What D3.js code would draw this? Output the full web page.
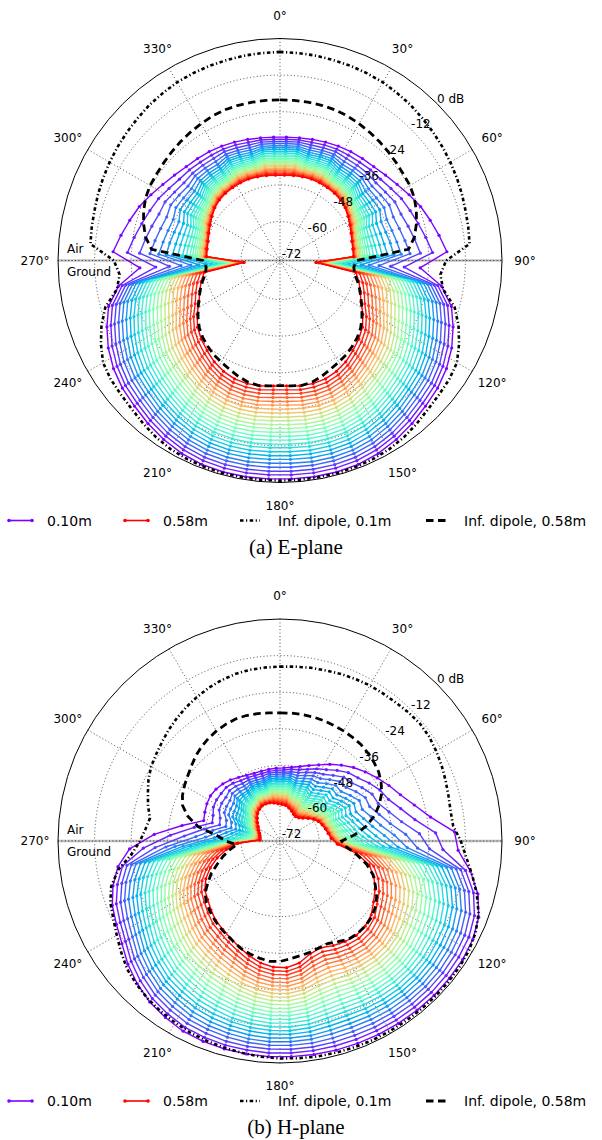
<!DOCTYPE html>
<html>
<head>
<meta charset="utf-8">
<script src="https://cdn.jsdelivr.net/npm/d3@7"></script>
<style type="text/css">
  body {
    margin: 0px;
    background: white;
    font-family: 'DejaVu Sans';
  }
  .tick { font-size: 12px; fill: #000; }
  .legendText { font-size: 14px; fill: #000; }
  .caption { font-family: 'Liberation Serif'; font-size: 21px; fill: #000; }
</style>
</head>
<body>
<script>

// ---------- data ----------
var depths = ["0.10m","0.12m","0.14m","0.16m","0.18m","0.20m","0.22m","0.24m","0.26m","0.28m","0.30m","0.32m","0.34m",
              "0.36m","0.38m","0.40m","0.42m","0.44m","0.46m","0.48m","0.50m","0.52m","0.54m","0.56m","0.58m"];

var angles = [3,9,15,21,27,33,39,45,51,57,63,69,75,81,87,93,99,105,111,117,123,129,135,141,147,153,159,165,171,177,
              183,189,195,201,207,213,219,225,231,237,243,249,255,261,267,273,279,285,291,297,303,309,315,321,327,333,339,345,351,357];

// one row per angle, one value (dB) per depth
var ePlane = [
  [-32.3,-33.0,-33.7,-34.4,-35.1,-35.7,-36.3,-36.9,-37.5,-38.1,-38.6,-39.2,-39.7,-40.2,-40.7,-41.1,-41.6,-42.0,-42.5,-42.9,-43.3,-43.7,-44.1,-44.4,-44.8],
  [-32.1,-32.8,-33.5,-34.2,-34.9,-35.5,-36.1,-36.7,-37.3,-37.9,-38.4,-39.0,-39.5,-40.0,-40.5,-40.9,-41.4,-41.8,-42.3,-42.7,-43.1,-43.5,-43.9,-44.2,-44.6],
  [-31.7,-32.7,-33.6,-34.5,-35.3,-36.1,-36.8,-37.5,-38.1,-38.7,-39.3,-39.8,-40.3,-40.8,-41.2,-41.6,-42.0,-42.4,-42.7,-43.1,-43.4,-43.6,-43.9,-44.2,-44.4],
  [-31.2,-32.2,-33.2,-34.1,-34.9,-35.7,-36.4,-37.1,-37.8,-38.4,-39.0,-39.5,-40.0,-40.5,-40.9,-41.4,-41.8,-42.1,-42.5,-42.8,-43.1,-43.4,-43.7,-44.0,-44.2],
  [-30.7,-31.8,-32.7,-33.7,-34.5,-35.3,-36.1,-36.8,-37.5,-38.2,-38.8,-39.3,-39.9,-40.3,-40.8,-41.3,-41.7,-42.1,-42.4,-42.8,-43.1,-43.4,-43.7,-43.9,-44.2],
  [-30.2,-31.6,-32.9,-34.1,-35.2,-36.1,-37.0,-37.8,-38.5,-39.2,-39.8,-40.4,-40.9,-41.3,-41.7,-42.1,-42.5,-42.8,-43.1,-43.3,-43.6,-43.8,-44.0,-44.1,-44.3],
  [-29.8,-31.3,-32.6,-33.8,-34.9,-35.9,-36.8,-37.7,-38.4,-39.1,-39.8,-40.3,-40.8,-41.3,-41.7,-42.1,-42.5,-42.8,-43.1,-43.4,-43.6,-43.9,-44.1,-44.2,-44.4],
  [-29.3,-30.8,-32.3,-33.5,-34.7,-35.8,-36.7,-37.6,-38.4,-39.1,-39.8,-40.4,-40.9,-41.5,-41.9,-42.3,-42.7,-43.0,-43.3,-43.6,-43.9,-44.1,-44.3,-44.5,-44.7],
  [-28.3,-30.4,-32.3,-34.0,-35.4,-36.7,-37.9,-38.8,-39.7,-40.5,-41.2,-41.8,-42.3,-42.8,-43.2,-43.5,-43.8,-44.1,-44.4,-44.6,-44.7,-44.9,-45.1,-45.2,-45.3],
  [-27.0,-29.4,-31.6,-33.4,-35.1,-36.5,-37.8,-38.9,-39.9,-40.8,-41.5,-42.2,-42.8,-43.3,-43.8,-44.2,-44.5,-44.8,-45.1,-45.4,-45.6,-45.8,-45.9,-46.1,-46.2],
  [-25.3,-28.1,-30.5,-32.6,-34.5,-36.1,-37.6,-38.8,-40.0,-40.9,-41.8,-42.6,-43.2,-43.8,-44.4,-44.8,-45.2,-45.6,-45.9,-46.1,-46.4,-46.6,-46.8,-47.0,-47.1],
  [-23.4,-27.1,-30.3,-33.0,-35.3,-37.3,-38.9,-40.3,-41.5,-42.5,-43.4,-44.1,-44.8,-45.3,-45.7,-46.1,-46.5,-46.7,-47.0,-47.2,-47.3,-47.5,-47.6,-47.7,-47.8],
  [-21.8,-25.9,-29.3,-32.3,-34.8,-36.9,-38.7,-40.2,-41.6,-42.7,-43.6,-44.4,-45.1,-45.7,-46.1,-46.6,-46.9,-47.2,-47.5,-47.7,-47.9,-48.1,-48.2,-48.3,-48.4],
  [-20.0,-24.4,-28.1,-31.3,-34.0,-36.2,-38.2,-39.8,-41.3,-42.4,-43.5,-44.3,-45.0,-45.7,-46.2,-46.6,-47.0,-47.3,-47.6,-47.9,-48.1,-48.2,-48.4,-48.5,-48.6],
  [-18.0,-22.7,-26.7,-30.1,-33.0,-35.4,-37.5,-39.3,-40.8,-42.1,-43.2,-44.1,-44.9,-45.5,-46.1,-46.6,-47.0,-47.4,-47.7,-47.9,-48.1,-48.3,-48.5,-48.6,-48.7],
  [-26.8,-32.0,-36.5,-40.3,-43.5,-46.2,-48.6,-50.5,-52.2,-53.6,-54.8,-55.9,-56.7,-57.5,-58.1,-58.6,-59.1,-59.5,-59.8,-60.1,-60.4,-60.6,-60.7,-60.9,-61.0],
  [-19.2,-20.4,-21.6,-22.8,-23.9,-25.1,-26.3,-27.5,-28.7,-29.9,-31.0,-32.2,-33.4,-34.6,-35.8,-37.0,-38.1,-39.3,-40.5,-41.7,-42.9,-44.0,-45.2,-46.4,-47.6],
  [-14.6,-15.9,-17.2,-18.5,-19.8,-21.1,-22.5,-23.8,-25.1,-26.4,-27.7,-29.0,-30.3,-31.6,-32.9,-34.2,-35.5,-36.8,-38.2,-39.5,-40.8,-42.1,-43.4,-44.7,-46.0],
  [-12.0,-13.4,-14.7,-16.1,-17.4,-18.8,-20.2,-21.5,-22.9,-24.2,-25.6,-26.9,-28.3,-29.7,-31.0,-32.4,-33.7,-35.1,-36.5,-37.8,-39.2,-40.5,-41.9,-43.2,-44.6],
  [-9.6,-11.0,-12.4,-13.8,-15.2,-16.6,-18.0,-19.3,-20.7,-22.1,-23.5,-24.9,-26.3,-27.7,-29.1,-30.5,-31.9,-33.3,-34.6,-36.0,-37.4,-38.8,-40.2,-41.6,-43.0],
  [-7.7,-9.1,-10.4,-11.8,-13.2,-14.5,-15.9,-17.2,-18.6,-20.0,-21.3,-22.7,-24.1,-25.4,-26.8,-28.1,-29.5,-30.9,-32.2,-33.6,-35.0,-36.3,-37.7,-39.0,-40.4],
  [-6.3,-7.6,-8.9,-10.3,-11.6,-12.9,-14.2,-15.5,-16.9,-18.2,-19.5,-20.8,-22.2,-23.5,-24.8,-26.1,-27.4,-28.8,-30.1,-31.4,-32.7,-34.0,-35.4,-36.7,-38.0],
  [-5.3,-6.6,-7.9,-9.2,-10.5,-11.8,-13.1,-14.3,-15.6,-16.9,-18.2,-19.5,-20.8,-22.1,-23.4,-24.7,-26.0,-27.3,-28.6,-29.8,-31.1,-32.4,-33.7,-35.0,-36.3],
  [-4.0,-5.3,-6.6,-7.9,-9.1,-10.4,-11.7,-13.0,-14.3,-15.6,-16.8,-18.1,-19.4,-20.7,-22.0,-23.3,-24.5,-25.8,-27.1,-28.4,-29.7,-31.0,-32.2,-33.5,-34.8],
  [-2.8,-4.1,-5.3,-6.6,-7.9,-9.1,-10.4,-11.7,-12.9,-14.2,-15.5,-16.7,-18.0,-19.3,-20.5,-21.8,-23.1,-24.3,-25.6,-26.9,-28.1,-29.4,-30.7,-31.9,-33.2],
  [-1.8,-3.1,-4.3,-5.6,-6.8,-8.1,-9.4,-10.6,-11.9,-13.1,-14.4,-15.6,-16.9,-18.2,-19.4,-20.7,-21.9,-23.2,-24.5,-25.7,-27.0,-28.2,-29.5,-30.7,-32.0],
  [-1.2,-2.5,-3.7,-5.0,-6.2,-7.5,-8.7,-10.0,-11.2,-12.5,-13.7,-15.0,-16.2,-17.5,-18.7,-20.0,-21.2,-22.5,-23.7,-25.0,-26.2,-27.5,-28.7,-30.0,-31.2],
  [-1.0,-2.3,-3.5,-4.8,-6.0,-7.3,-8.5,-9.8,-11.0,-12.3,-13.5,-14.8,-16.0,-17.3,-18.5,-19.8,-21.0,-22.3,-23.5,-24.8,-26.0,-27.3,-28.5,-29.8,-31.0],
  [-1.0,-2.3,-3.5,-4.8,-6.0,-7.3,-8.6,-9.8,-11.1,-12.3,-13.6,-14.8,-16.1,-17.4,-18.6,-19.9,-21.1,-22.4,-23.7,-24.9,-26.2,-27.4,-28.7,-29.9,-31.2],
  [-1.1,-2.4,-3.6,-4.9,-6.2,-7.5,-8.7,-10.0,-11.3,-12.5,-13.8,-15.1,-16.4,-17.6,-18.9,-20.2,-21.4,-22.7,-24.0,-25.3,-26.5,-27.8,-29.1,-30.3,-31.6],
  [-1.1,-2.4,-3.6,-4.9,-6.2,-7.5,-8.7,-10.0,-11.3,-12.5,-13.8,-15.1,-16.4,-17.6,-18.9,-20.2,-21.4,-22.7,-24.0,-25.3,-26.5,-27.8,-29.1,-30.3,-31.6],
  [-1.0,-2.3,-3.5,-4.8,-6.0,-7.3,-8.6,-9.8,-11.1,-12.3,-13.6,-14.8,-16.1,-17.4,-18.6,-19.9,-21.1,-22.4,-23.7,-24.9,-26.2,-27.4,-28.7,-29.9,-31.2],
  [-1.0,-2.3,-3.5,-4.8,-6.0,-7.3,-8.5,-9.8,-11.0,-12.3,-13.5,-14.8,-16.0,-17.3,-18.5,-19.8,-21.0,-22.3,-23.5,-24.8,-26.0,-27.3,-28.5,-29.8,-31.0],
  [-1.2,-2.5,-3.7,-5.0,-6.2,-7.5,-8.7,-10.0,-11.2,-12.5,-13.7,-15.0,-16.2,-17.5,-18.7,-20.0,-21.2,-22.5,-23.7,-25.0,-26.2,-27.5,-28.7,-30.0,-31.2],
  [-1.8,-3.1,-4.3,-5.6,-6.8,-8.1,-9.4,-10.6,-11.9,-13.1,-14.4,-15.6,-16.9,-18.2,-19.4,-20.7,-21.9,-23.2,-24.5,-25.7,-27.0,-28.2,-29.5,-30.7,-32.0],
  [-2.8,-4.1,-5.3,-6.6,-7.9,-9.1,-10.4,-11.7,-12.9,-14.2,-15.5,-16.7,-18.0,-19.3,-20.5,-21.8,-23.1,-24.3,-25.6,-26.9,-28.1,-29.4,-30.7,-31.9,-33.2],
  [-4.0,-5.3,-6.6,-7.9,-9.1,-10.4,-11.7,-13.0,-14.3,-15.6,-16.8,-18.1,-19.4,-20.7,-22.0,-23.3,-24.5,-25.8,-27.1,-28.4,-29.7,-31.0,-32.2,-33.5,-34.8],
  [-5.3,-6.6,-7.9,-9.2,-10.5,-11.8,-13.1,-14.3,-15.6,-16.9,-18.2,-19.5,-20.8,-22.1,-23.4,-24.7,-26.0,-27.3,-28.6,-29.8,-31.1,-32.4,-33.7,-35.0,-36.3],
  [-6.3,-7.6,-8.9,-10.3,-11.6,-12.9,-14.2,-15.5,-16.9,-18.2,-19.5,-20.8,-22.2,-23.5,-24.8,-26.1,-27.4,-28.8,-30.1,-31.4,-32.7,-34.0,-35.4,-36.7,-38.0],
  [-7.7,-9.1,-10.4,-11.8,-13.2,-14.5,-15.9,-17.2,-18.6,-20.0,-21.3,-22.7,-24.1,-25.4,-26.8,-28.1,-29.5,-30.9,-32.2,-33.6,-35.0,-36.3,-37.7,-39.0,-40.4],
  [-9.6,-11.0,-12.4,-13.8,-15.2,-16.6,-18.0,-19.3,-20.7,-22.1,-23.5,-24.9,-26.3,-27.7,-29.1,-30.5,-31.9,-33.3,-34.6,-36.0,-37.4,-38.8,-40.2,-41.6,-43.0],
  [-12.0,-13.4,-14.7,-16.1,-17.4,-18.8,-20.2,-21.5,-22.9,-24.2,-25.6,-26.9,-28.3,-29.7,-31.0,-32.4,-33.7,-35.1,-36.5,-37.8,-39.2,-40.5,-41.9,-43.2,-44.6],
  [-14.6,-15.9,-17.2,-18.5,-19.8,-21.1,-22.5,-23.8,-25.1,-26.4,-27.7,-29.0,-30.3,-31.6,-32.9,-34.2,-35.5,-36.8,-38.2,-39.5,-40.8,-42.1,-43.4,-44.7,-46.0],
  [-19.2,-20.4,-21.6,-22.8,-23.9,-25.1,-26.3,-27.5,-28.7,-29.9,-31.0,-32.2,-33.4,-34.6,-35.8,-37.0,-38.1,-39.3,-40.5,-41.7,-42.9,-44.0,-45.2,-46.4,-47.6],
  [-26.8,-32.0,-36.5,-40.3,-43.5,-46.2,-48.6,-50.5,-52.2,-53.6,-54.8,-55.9,-56.7,-57.5,-58.1,-58.6,-59.1,-59.5,-59.8,-60.1,-60.4,-60.6,-60.7,-60.9,-61.0],
  [-18.0,-22.7,-26.7,-30.1,-33.0,-35.4,-37.5,-39.3,-40.8,-42.1,-43.2,-44.1,-44.9,-45.5,-46.1,-46.6,-47.0,-47.4,-47.7,-47.9,-48.1,-48.3,-48.5,-48.6,-48.7],
  [-20.0,-24.4,-28.1,-31.3,-34.0,-36.2,-38.2,-39.8,-41.3,-42.4,-43.5,-44.3,-45.0,-45.7,-46.2,-46.6,-47.0,-47.3,-47.6,-47.9,-48.1,-48.2,-48.4,-48.5,-48.6],
  [-21.8,-25.9,-29.3,-32.3,-34.8,-36.9,-38.7,-40.2,-41.6,-42.7,-43.6,-44.4,-45.1,-45.7,-46.1,-46.6,-46.9,-47.2,-47.5,-47.7,-47.9,-48.1,-48.2,-48.3,-48.4],
  [-23.4,-27.1,-30.3,-33.0,-35.3,-37.3,-38.9,-40.3,-41.5,-42.5,-43.4,-44.1,-44.8,-45.3,-45.7,-46.1,-46.5,-46.7,-47.0,-47.2,-47.3,-47.5,-47.6,-47.7,-47.8],
  [-25.3,-28.1,-30.5,-32.6,-34.5,-36.1,-37.6,-38.8,-40.0,-40.9,-41.8,-42.6,-43.2,-43.8,-44.4,-44.8,-45.2,-45.6,-45.9,-46.1,-46.4,-46.6,-46.8,-47.0,-47.1],
  [-27.0,-29.4,-31.6,-33.4,-35.1,-36.5,-37.8,-38.9,-39.9,-40.8,-41.5,-42.2,-42.8,-43.3,-43.8,-44.2,-44.5,-44.8,-45.1,-45.4,-45.6,-45.8,-45.9,-46.1,-46.2],
  [-28.3,-30.4,-32.3,-34.0,-35.4,-36.7,-37.9,-38.8,-39.7,-40.5,-41.2,-41.8,-42.3,-42.8,-43.2,-43.5,-43.8,-44.1,-44.4,-44.6,-44.7,-44.9,-45.1,-45.2,-45.3],
  [-29.3,-30.8,-32.3,-33.5,-34.7,-35.8,-36.7,-37.6,-38.4,-39.1,-39.8,-40.4,-40.9,-41.5,-41.9,-42.3,-42.7,-43.0,-43.3,-43.6,-43.9,-44.1,-44.3,-44.5,-44.7],
  [-29.8,-31.3,-32.6,-33.8,-34.9,-35.9,-36.8,-37.7,-38.4,-39.1,-39.8,-40.3,-40.8,-41.3,-41.7,-42.1,-42.5,-42.8,-43.1,-43.4,-43.6,-43.9,-44.1,-44.2,-44.4],
  [-30.2,-31.6,-32.9,-34.1,-35.2,-36.1,-37.0,-37.8,-38.5,-39.2,-39.8,-40.4,-40.9,-41.3,-41.7,-42.1,-42.5,-42.8,-43.1,-43.3,-43.6,-43.8,-44.0,-44.1,-44.3],
  [-30.7,-31.8,-32.7,-33.7,-34.5,-35.3,-36.1,-36.8,-37.5,-38.2,-38.8,-39.3,-39.9,-40.3,-40.8,-41.3,-41.7,-42.1,-42.4,-42.8,-43.1,-43.4,-43.7,-43.9,-44.2],
  [-31.2,-32.2,-33.2,-34.1,-34.9,-35.7,-36.4,-37.1,-37.8,-38.4,-39.0,-39.5,-40.0,-40.5,-40.9,-41.4,-41.8,-42.1,-42.5,-42.8,-43.1,-43.4,-43.7,-44.0,-44.2],
  [-31.7,-32.7,-33.6,-34.5,-35.3,-36.1,-36.8,-37.5,-38.1,-38.7,-39.3,-39.8,-40.3,-40.8,-41.2,-41.6,-42.0,-42.4,-42.7,-43.1,-43.4,-43.6,-43.9,-44.2,-44.4],
  [-32.1,-32.8,-33.5,-34.2,-34.9,-35.5,-36.1,-36.7,-37.3,-37.9,-38.4,-39.0,-39.5,-40.0,-40.5,-40.9,-41.4,-41.8,-42.3,-42.7,-43.1,-43.5,-43.9,-44.2,-44.6],
  [-32.3,-33.0,-33.7,-34.4,-35.1,-35.7,-36.3,-36.9,-37.5,-38.1,-38.6,-39.2,-39.7,-40.2,-40.7,-41.1,-41.6,-42.0,-42.5,-42.9,-43.3,-43.7,-44.1,-44.4,-44.8]
];

var hPlane = [
  [-48.8,-49.5,-50.2,-50.8,-51.5,-52.1,-52.7,-53.2,-53.8,-54.3,-54.9,-55.4,-55.9,-56.4,-56.8,-57.3,-57.7,-58.2,-58.6,-59.0,-59.4,-59.7,-60.1,-60.5,-60.8],
  [-48.3,-49.0,-49.8,-50.4,-51.1,-51.8,-52.4,-53.0,-53.6,-54.2,-54.7,-55.3,-55.8,-56.3,-56.8,-57.3,-57.8,-58.2,-58.6,-59.1,-59.5,-59.9,-60.3,-60.6,-61.0],
  [-47.5,-48.6,-49.6,-50.6,-51.5,-52.4,-53.2,-53.9,-54.6,-55.3,-55.9,-56.5,-57.1,-57.6,-58.1,-58.5,-59.0,-59.4,-59.7,-60.1,-60.4,-60.8,-61.1,-61.3,-61.6],
  [-46.3,-47.6,-48.7,-49.8,-50.8,-51.8,-52.7,-53.6,-54.4,-55.1,-55.9,-56.5,-57.2,-57.7,-58.3,-58.8,-59.3,-59.8,-60.2,-60.6,-61.0,-61.3,-61.7,-62.0,-62.3],
  [-44.8,-46.2,-47.6,-48.8,-50.0,-51.1,-52.1,-53.1,-54.0,-54.9,-55.7,-56.4,-57.1,-57.8,-58.4,-59.0,-59.6,-60.1,-60.6,-61.1,-61.5,-61.9,-62.3,-62.6,-63.0],
  [-42.8,-44.9,-46.7,-48.4,-50.0,-51.4,-52.7,-53.9,-54.9,-55.9,-56.8,-57.6,-58.3,-59.0,-59.6,-60.1,-60.6,-61.1,-61.5,-61.9,-62.2,-62.5,-62.8,-63.1,-63.3],
  [-40.8,-43.0,-45.1,-46.9,-48.6,-50.1,-51.5,-52.8,-53.9,-55.0,-55.9,-56.8,-57.6,-58.3,-59.0,-59.6,-60.1,-60.6,-61.1,-61.5,-61.8,-62.2,-62.5,-62.8,-63.0],
  [-38.7,-41.1,-43.2,-45.2,-47.0,-48.6,-50.0,-51.4,-52.6,-53.7,-54.7,-55.6,-56.5,-57.2,-57.9,-58.6,-59.1,-59.7,-60.1,-60.6,-61.0,-61.3,-61.6,-61.9,-62.2],
  [-36.8,-39.9,-42.5,-44.9,-47.0,-48.8,-50.4,-51.8,-53.1,-54.2,-55.1,-56.0,-56.7,-57.4,-58.0,-58.5,-58.9,-59.3,-59.6,-59.9,-60.2,-60.4,-60.7,-60.8,-61.0],
  [-34.8,-37.9,-40.7,-43.1,-45.3,-47.1,-48.8,-50.2,-51.5,-52.7,-53.7,-54.5,-55.3,-56.0,-56.6,-57.1,-57.5,-57.9,-58.3,-58.6,-58.9,-59.1,-59.4,-59.5,-59.7],
  [-32.7,-36.0,-38.9,-41.4,-43.6,-45.6,-47.3,-48.8,-50.2,-51.3,-52.4,-53.3,-54.1,-54.8,-55.4,-56.0,-56.4,-56.9,-57.2,-57.6,-57.8,-58.1,-58.3,-58.5,-58.7],
  [-30.5,-34.7,-38.3,-41.3,-43.9,-46.1,-48.0,-49.6,-50.9,-52.1,-53.1,-53.9,-54.6,-55.2,-55.7,-56.1,-56.5,-56.8,-57.1,-57.3,-57.5,-57.6,-57.8,-57.9,-58.0],
  [-27.2,-31.8,-35.8,-39.1,-41.9,-44.4,-46.4,-48.1,-49.6,-50.9,-52.0,-52.9,-53.6,-54.3,-54.8,-55.3,-55.7,-56.1,-56.4,-56.6,-56.8,-57.0,-57.2,-57.3,-57.4],
  [-22.8,-28.0,-32.4,-36.2,-39.4,-42.1,-44.4,-46.4,-48.1,-49.5,-50.7,-51.7,-52.6,-53.3,-53.9,-54.5,-54.9,-55.3,-55.6,-55.9,-56.2,-56.4,-56.5,-56.7,-56.8],
  [-15.5,-21.7,-27.0,-31.5,-35.3,-38.5,-41.3,-43.6,-45.6,-47.3,-48.7,-49.9,-50.9,-51.8,-52.6,-53.2,-53.8,-54.2,-54.6,-55.0,-55.2,-55.5,-55.7,-55.8,-56.0],
  [-14.3,-19.3,-23.7,-27.6,-31.0,-34.0,-36.6,-38.9,-41.0,-42.8,-44.4,-45.7,-47.0,-48.0,-49.0,-49.8,-50.6,-51.2,-51.8,-52.3,-52.7,-53.1,-53.4,-53.7,-54.0],
  [-9.6,-11.2,-12.8,-14.3,-15.9,-17.5,-19.1,-20.7,-22.2,-23.8,-25.4,-27.0,-28.6,-30.1,-31.7,-33.3,-34.9,-36.5,-38.0,-39.6,-41.2,-42.8,-44.3,-45.9,-47.5],
  [-5.6,-7.1,-8.7,-10.2,-11.8,-13.3,-14.8,-16.4,-17.9,-19.4,-21.0,-22.5,-24.1,-25.6,-27.1,-28.7,-30.2,-31.7,-33.3,-34.8,-36.4,-37.9,-39.4,-41.0,-42.5],
  [-3.0,-4.5,-6.1,-7.6,-9.1,-10.7,-12.2,-13.7,-15.3,-16.8,-18.3,-19.9,-21.4,-22.9,-24.5,-26.0,-27.5,-29.1,-30.6,-32.1,-33.7,-35.2,-36.7,-38.3,-39.8],
  [-1.8,-3.3,-4.8,-6.3,-7.8,-9.3,-10.8,-12.3,-13.8,-15.3,-16.8,-18.3,-19.8,-21.3,-22.8,-24.3,-25.8,-27.3,-28.8,-30.3,-31.8,-33.3,-34.8,-36.3,-37.8],
  [-1.4,-2.9,-4.3,-5.8,-7.2,-8.7,-10.1,-11.6,-13.0,-14.5,-15.9,-17.4,-18.8,-20.3,-21.7,-23.2,-24.6,-26.1,-27.5,-29.0,-30.4,-31.9,-33.3,-34.8,-36.2],
  [-1.3,-2.7,-4.1,-5.4,-6.8,-8.2,-9.6,-10.9,-12.3,-13.7,-15.1,-16.4,-17.8,-19.2,-20.6,-21.9,-23.3,-24.7,-26.1,-27.4,-28.8,-30.2,-31.6,-32.9,-34.3],
  [-1.3,-2.6,-4.0,-5.3,-6.6,-8.0,-9.3,-10.6,-12.0,-13.3,-14.6,-16.0,-17.3,-18.6,-20.0,-21.3,-22.6,-24.0,-25.3,-26.6,-28.0,-29.3,-30.6,-32.0,-33.3],
  [-1.4,-2.7,-4.0,-5.4,-6.7,-8.0,-9.3,-10.6,-11.9,-13.3,-14.6,-15.9,-17.2,-18.5,-19.8,-21.2,-22.5,-23.8,-25.1,-26.4,-27.7,-29.1,-30.4,-31.7,-33.0],
  [-1.5,-2.8,-4.2,-5.5,-6.8,-8.2,-9.5,-10.8,-12.2,-13.5,-14.8,-16.2,-17.5,-18.8,-20.2,-21.5,-22.8,-24.2,-25.5,-26.8,-28.2,-29.5,-30.8,-32.2,-33.5],
  [-1.6,-3.0,-4.3,-5.7,-7.1,-8.4,-9.8,-11.1,-12.5,-13.9,-15.2,-16.6,-18.0,-19.3,-20.7,-22.0,-23.4,-24.8,-26.1,-27.5,-28.9,-30.2,-31.6,-32.9,-34.3],
  [-1.7,-3.1,-4.5,-5.9,-7.3,-8.7,-10.1,-11.5,-12.9,-14.3,-15.7,-17.1,-18.5,-19.9,-21.3,-22.7,-24.1,-25.5,-26.9,-28.3,-29.7,-31.1,-32.5,-33.9,-35.3],
  [-1.8,-3.2,-4.5,-5.9,-7.3,-8.6,-10.0,-11.3,-12.7,-14.1,-15.4,-16.8,-18.2,-19.5,-20.9,-22.2,-23.6,-25.0,-26.3,-27.7,-29.1,-30.4,-31.8,-33.1,-34.5],
  [-1.9,-3.2,-4.4,-5.7,-7.0,-8.2,-9.5,-10.8,-12.0,-13.3,-14.6,-15.8,-17.1,-18.4,-19.6,-20.9,-22.2,-23.4,-24.7,-26.0,-27.2,-28.5,-29.8,-31.0,-32.3],
  [-2.0,-3.2,-4.4,-5.7,-6.9,-8.1,-9.3,-10.5,-11.7,-13.0,-14.2,-15.4,-16.6,-17.8,-19.0,-20.3,-21.5,-22.7,-23.9,-25.1,-26.3,-27.6,-28.8,-30.0,-31.2],
  [-2.0,-3.2,-4.5,-5.7,-6.9,-8.1,-9.4,-10.6,-11.8,-13.0,-14.3,-15.5,-16.7,-17.9,-19.2,-20.4,-21.6,-22.8,-24.1,-25.3,-26.5,-27.7,-29.0,-30.2,-31.4],
  [-2.1,-3.4,-4.6,-5.9,-7.1,-8.4,-9.7,-10.9,-12.2,-13.4,-14.7,-15.9,-17.2,-18.5,-19.7,-21.0,-22.2,-23.5,-24.8,-26.0,-27.3,-28.5,-29.8,-31.0,-32.3],
  [-2.2,-3.5,-4.8,-6.2,-7.5,-8.8,-10.1,-11.4,-12.7,-14.1,-15.4,-16.7,-18.0,-19.3,-20.6,-22.0,-23.3,-24.6,-25.9,-27.2,-28.5,-29.9,-31.2,-32.5,-33.8],
  [-2.4,-3.8,-5.2,-6.6,-7.9,-9.3,-10.7,-12.1,-13.5,-14.9,-16.2,-17.6,-19.0,-20.4,-21.8,-23.2,-24.5,-25.9,-27.3,-28.7,-30.1,-31.5,-32.8,-34.2,-35.6],
  [-2.8,-4.2,-5.7,-7.1,-8.5,-9.9,-11.4,-12.8,-14.2,-15.6,-17.1,-18.5,-19.9,-21.3,-22.8,-24.2,-25.6,-27.0,-28.5,-29.9,-31.3,-32.7,-34.2,-35.6,-37.0],
  [-3.8,-5.2,-6.7,-8.1,-9.6,-11.0,-12.4,-13.9,-15.3,-16.7,-18.2,-19.6,-21.1,-22.5,-23.9,-25.4,-26.8,-28.2,-29.7,-31.1,-32.6,-34.0,-35.4,-36.9,-38.3],
  [-4.9,-6.3,-7.8,-9.2,-10.6,-12.1,-13.5,-14.9,-16.4,-17.8,-19.2,-20.7,-22.1,-23.5,-25.0,-26.4,-27.8,-29.3,-30.7,-32.1,-33.6,-35.0,-36.4,-37.9,-39.3],
  [-6.6,-8.0,-9.5,-10.9,-12.3,-13.7,-15.2,-16.6,-18.0,-19.4,-20.9,-22.3,-23.7,-25.1,-26.6,-28.0,-29.4,-30.8,-32.3,-33.7,-35.1,-36.5,-38.0,-39.4,-40.8],
  [-8.6,-10.0,-11.4,-12.8,-14.2,-15.6,-17.0,-18.4,-19.8,-21.2,-22.6,-24.1,-25.5,-26.9,-28.3,-29.7,-31.1,-32.5,-33.9,-35.3,-36.7,-38.1,-39.5,-40.9,-42.3],
  [-11.0,-12.4,-13.7,-15.1,-16.4,-17.8,-19.1,-20.5,-21.8,-23.2,-24.5,-25.9,-27.2,-28.6,-29.9,-31.3,-32.6,-34.0,-35.3,-36.7,-38.0,-39.4,-40.7,-42.1,-43.4],
  [-12.6,-14.0,-15.3,-16.7,-18.1,-19.5,-20.8,-22.2,-23.6,-24.9,-26.3,-27.7,-29.1,-30.4,-31.8,-33.2,-34.5,-35.9,-37.3,-38.7,-40.0,-41.4,-42.8,-44.1,-45.5],
  [-13.9,-15.3,-16.8,-18.2,-19.6,-21.1,-22.5,-23.9,-25.4,-26.8,-28.2,-29.7,-31.1,-32.5,-34.0,-35.4,-36.8,-38.3,-39.7,-41.1,-42.6,-44.0,-45.4,-46.9,-48.3],
  [-16.1,-17.6,-19.1,-20.5,-22.0,-23.5,-25.0,-26.4,-27.9,-29.4,-30.9,-32.3,-33.8,-35.3,-36.8,-38.2,-39.7,-41.2,-42.7,-44.1,-45.6,-47.1,-48.6,-50.0,-51.5],
  [-19.0,-20.5,-22.0,-23.5,-25.0,-26.5,-28.0,-29.5,-31.0,-32.5,-34.0,-35.5,-37.0,-38.5,-40.0,-41.5,-43.0,-44.5,-46.0,-47.5,-49.0,-50.5,-52.0,-53.5,-55.0],
  [-23.4,-27.9,-31.8,-35.3,-38.3,-41.0,-43.4,-45.5,-47.3,-48.9,-50.4,-51.6,-52.7,-53.7,-54.5,-55.3,-55.9,-56.5,-57.0,-57.4,-57.8,-58.2,-58.5,-58.8,-59.0],
  [-31.5,-36.8,-41.4,-45.2,-48.5,-51.3,-53.6,-55.6,-57.4,-58.8,-60.0,-61.1,-62.0,-62.7,-63.3,-63.9,-64.4,-64.8,-65.1,-65.4,-65.6,-65.9,-66.0,-66.2,-66.3],
  [-40.3,-44.3,-47.6,-50.5,-52.9,-55.0,-56.8,-58.3,-59.5,-60.6,-61.5,-62.3,-63.0,-63.5,-64.0,-64.4,-64.8,-65.1,-65.3,-65.5,-65.7,-65.9,-66.0,-66.1,-66.2],
  [-46.9,-49.8,-52.3,-54.4,-56.2,-57.8,-59.1,-60.1,-61.1,-61.9,-62.6,-63.1,-63.6,-64.0,-64.4,-64.7,-65.0,-65.2,-65.4,-65.5,-65.6,-65.8,-65.9,-65.9,-66.0],
  [-46.4,-49.3,-51.8,-54.0,-55.8,-57.3,-58.6,-59.7,-60.7,-61.5,-62.1,-62.7,-63.2,-63.6,-64.0,-64.3,-64.5,-64.8,-64.9,-65.1,-65.2,-65.4,-65.5,-65.5,-65.6],
  [-45.9,-48.3,-50.4,-52.3,-53.9,-55.4,-56.6,-57.7,-58.7,-59.6,-60.4,-61.0,-61.6,-62.1,-62.6,-63.0,-63.3,-63.6,-63.9,-64.2,-64.4,-64.6,-64.7,-64.9,-65.0],
  [-45.6,-48.0,-50.0,-51.9,-53.5,-54.9,-56.1,-57.2,-58.2,-59.0,-59.8,-60.4,-61.0,-61.5,-61.9,-62.3,-62.7,-63.0,-63.3,-63.5,-63.7,-63.9,-64.0,-64.2,-64.3],
  [-45.8,-48.0,-50.0,-51.7,-53.2,-54.5,-55.6,-56.7,-57.6,-58.4,-59.1,-59.7,-60.2,-60.7,-61.1,-61.5,-61.8,-62.1,-62.3,-62.5,-62.7,-62.9,-63.1,-63.2,-63.3],
  [-46.3,-47.9,-49.4,-50.7,-51.9,-53.0,-54.0,-54.9,-55.8,-56.5,-57.2,-57.8,-58.4,-58.9,-59.4,-59.8,-60.2,-60.6,-60.9,-61.2,-61.5,-61.7,-61.9,-62.1,-62.3],
  [-47.0,-48.4,-49.7,-50.9,-52.0,-53.0,-53.8,-54.7,-55.4,-56.1,-56.7,-57.2,-57.7,-58.2,-58.6,-59.0,-59.3,-59.7,-59.9,-60.2,-60.5,-60.7,-60.9,-61.0,-61.2],
  [-47.9,-49.2,-50.3,-51.3,-52.3,-53.2,-53.9,-54.6,-55.3,-55.9,-56.4,-56.9,-57.4,-57.8,-58.1,-58.5,-58.8,-59.1,-59.3,-59.5,-59.7,-59.9,-60.1,-60.3,-60.4],
  [-48.6,-49.5,-50.3,-51.1,-51.8,-52.5,-53.1,-53.7,-54.3,-54.8,-55.4,-55.8,-56.3,-56.7,-57.1,-57.4,-57.8,-58.1,-58.4,-58.7,-59.0,-59.2,-59.5,-59.7,-59.9],
  [-49.0,-49.8,-50.6,-51.4,-52.1,-52.7,-53.3,-53.9,-54.5,-55.0,-55.5,-55.9,-56.3,-56.7,-57.1,-57.5,-57.8,-58.1,-58.4,-58.7,-58.9,-59.2,-59.4,-59.6,-59.8],
  [-49.1,-49.9,-50.7,-51.5,-52.2,-52.8,-53.4,-54.0,-54.6,-55.1,-55.6,-56.0,-56.4,-56.8,-57.2,-57.6,-57.9,-58.2,-58.5,-58.8,-59.0,-59.3,-59.5,-59.7,-59.9],
  [-49.0,-49.7,-50.3,-50.9,-51.5,-52.1,-52.6,-53.1,-53.7,-54.2,-54.7,-55.2,-55.6,-56.1,-56.5,-56.9,-57.3,-57.7,-58.1,-58.5,-58.9,-59.2,-59.6,-59.9,-60.2],
  [-48.9,-49.6,-50.2,-50.9,-51.5,-52.1,-52.7,-53.2,-53.8,-54.3,-54.8,-55.3,-55.8,-56.3,-56.7,-57.2,-57.6,-58.0,-58.4,-58.8,-59.2,-59.6,-59.9,-60.3,-60.6]
];

var dipoleAngles = [0,5,10,15,20,25,30,35,40,45,50,55,60,65,70,75,80,85,90,95,100,105,110,115,120,125,130,135,140,145,150,155,160,165,170,175,
                    180,185,190,195,200,205,210,215,220,225,230,235,240,245,250,255,260,265,270,275,280,285,290,295,300,305,310,315,320,325,330,335,340,345,350,355];

var eDipole01 = [-4.4,-4.5,-4.6,-4.8,-4.9,-5.1,-5.3,-5.8,-6.2,-6.8,-7.3,-7.8,-8.3,-8.8,-9.3,-9.8,-10.1,-10.4,-18.3,-20.0,-18.5,-13.5,-10.5,-8.0,-5.8,-5.0,-4.6,-4.0,-3.0,-2.0,-1.3,-0.9,-0.7,-0.6,-0.6,-0.6,
                 -0.6,-0.6,-0.6,-0.6,-0.7,-0.9,-1.3,-2.0,-3.0,-4.0,-4.6,-5.0,-5.8,-8.0,-10.5,-13.5,-18.5,-20.0,-18.3,-10.4,-10.1,-9.8,-9.3,-8.8,-8.3,-7.8,-7.3,-6.8,-6.2,-5.8,-5.3,-5.1,-4.9,-4.8,-4.6,-4.5];
var eDipole058 = [-20.1,-20.1,-20.1,-20.1,-20.2,-20.5,-21.0,-21.5,-22.0,-22.5,-23.0,-23.4,-23.6,-24.2,-25.2,-26.5,-28.0,-30.5,-47.5,-48.5,-48.0,-46.5,-45.0,-43.5,-41.8,-40.0,-38.3,-37.0,-36.0,-35.0,-34.3,-33.5,-32.5,-31.6,-31.2,-31.5,
                  -31.8,-31.5,-31.2,-31.6,-32.5,-33.5,-34.3,-35.0,-36.0,-37.0,-38.3,-40.0,-41.8,-43.5,-45.0,-46.5,-48.0,-48.5,-47.5,-30.5,-28.0,-26.5,-25.2,-24.2,-23.6,-23.4,-23.0,-22.5,-22.0,-21.5,-21.0,-20.5,-20.2,-20.1,-20.1,-20.1];
var hDipole01 = [-15.6,-15.4,-15.1,-14.9,-14.5,-14.2,-13.9,-13.8,-13.6,-13.2,-12.9,-13.1,-13.7,-14.3,-15.0,-15.6,-16.0,-15.8,-13.5,-11.5,-8.8,-6.0,-3.5,-2.0,-1.2,-0.9,-0.8,-0.8,-0.8,-0.8,-0.8,-0.8,-0.9,-1.0,-1.1,-1.3,
                 -1.5,-1.8,-2.2,-2.6,-3.0,-3.4,-4.0,-4.6,-5.3,-6.3,-7.4,-9.2,-11.0,-12.5,-13.6,-15.5,-19.0,-24.0,-26.9,-28.5,-29.5,-28.0,-26.7,-25.2,-24.0,-23.2,-22.3,-21.2,-20.2,-19.2,-18.3,-17.4,-16.7,-16.1,-15.8,-15.7];
var hDipole058 = [-30.8,-30.7,-30.7,-30.7,-30.8,-31.0,-31.1,-31.3,-31.5,-32.0,-32.6,-33.3,-34.5,-36.0,-38.2,-40.7,-44.0,-48.0,-52.6,-51.0,-47.3,-43.4,-40.3,-38.3,-36.2,-34.7,-33.7,-33.3,-33.2,-33.5,-34.7,-35.7,-35.5,-35.0,-34.6,-34.0,
                  -33.3,-33.2,-33.8,-34.5,-35.3,-36.5,-37.5,-38.3,-39.3,-40.3,-41.3,-42.8,-45.5,-48.0,-51.0,-53.5,-56.0,-58.5,-55.0,-52.0,-45.5,-41.5,-38.8,-37.5,-36.6,-35.8,-34.8,-33.6,-32.6,-31.8,-31.1,-30.6,-30.2,-30.2,-30.4,-30.6];

var rTicks = [-72, -60, -48, -36, -24, -12, 0];
var rTickLabels = ["-72", "-60", "-48", "-36", "-24", "-12", "0 dB"];
var thetaTicks = [0, 30, 60, 90, 120, 150, 180, 210, 240, 270, 300, 330];
var legendLabels = ["0.10m", "0.58m", "Inf. dipole, 0.1m", "Inf. dipole, 0.58m"];
var captions = ["(a) E-plane", "(b) H-plane"];
var sideLabels = ["Air", "Ground"];

// ---------- layout ----------
var W = 602, H = 1140, cx = 280, R = 222;
var centers = [260.5, 841];

var svg = d3.select("body").append("svg")
    .attr("width", W)
    .attr("height", H);

var r = d3.scaleLinear().domain([-72.8, 0]).range([0, R]);
var toRad = d3.scaleLinear().domain([0, 360]).range([0, 2 * Math.PI]);

// matplotlib "rainbow"
function rainbow(t) {
  var cr = Math.min(1, Math.abs(2 * t - 0.5)),
      cg = Math.max(0, Math.sin(Math.PI * t)),
      cb = Math.max(0, Math.cos(Math.PI * t / 2));
  return d3.rgb(cr * 255, cg * 255, cb * 255).toString();
}
var color = d3.scaleSequential(rainbow).domain([0, depths.length - 1]);

var radial = d3.lineRadial()
    .angle(function(d) { return toRad(d[0]); })
    .radius(function(d) { return r(d[1]); })
    .curve(d3.curveLinearClosed);

function px(a, v) { return r(v) * Math.sin(toRad(a)); }
function py(a, v) { return -r(v) * Math.cos(toRad(a)); }

var dashDot = "3.5,2.5,1.2,2.5";
var dashed = "7.5,4.5";

function drawPlane(idx, rows, dip01, dip058) {
  var cy = centers[idx];
  var g = svg.append("g").attr("transform", "translate(" + cx + "," + cy + ")");

  // rings
  g.selectAll(".ring").data(rTicks.slice(0, -1)).enter().append("circle")
      .attr("r", function(d) { return r(d); })
      .attr("fill", "none")
      .attr("stroke", "#222")
      .attr("stroke-width", 0.8)
      .attr("stroke-dasharray", "1,2.4");

  // spokes
  g.selectAll(".spoke").data(thetaTicks).enter().append("line")
      .attr("x1", 0).attr("y1", 0)
      .attr("x2", function(d) { return px(d, 0); })
      .attr("y2", function(d) { return py(d, 0); })
      .attr("stroke", "#222")
      .attr("stroke-width", 0.8)
      .attr("stroke-dasharray", "1,2.4");

  // air / ground boundary
  g.append("line")
      .attr("x1", -R).attr("x2", R).attr("y1", 0).attr("y2", 0)
      .attr("stroke", "#b5b5b5")
      .attr("stroke-width", 2.6)
      .attr("opacity", 0.8);
  g.append("line")
      .attr("x1", -R).attr("x2", R).attr("y1", 0).attr("y2", 0)
      .attr("stroke", "#222")
      .attr("stroke-width", 0.8)
      .attr("stroke-dasharray", "1,2.4");

  // depth curves
  depths.forEach(function(dep, k) {
    var series = angles.map(function(a, i) { return [a, rows[i][k]]; });
    var c = color(k);
    g.append("path")
        .datum(series)
        .attr("d", radial)
        .attr("fill", "none")
        .attr("stroke", c)
        .attr("stroke-width", 1.4)
        .attr("stroke-linejoin", "round");
    g.append("g").selectAll("circle").data(series).enter().append("circle")
        .attr("cx", function(d) { return px(d[0], d[1]); })
        .attr("cy", function(d) { return py(d[0], d[1]); })
        .attr("r", 1.6)
        .attr("fill", c);
  });

  // infinitesimal dipoles
  g.append("path")
      .datum(dipoleAngles.map(function(a, i) { return [a, dip01[i]]; }))
      .attr("d", radial)
      .attr("fill", "none")
      .attr("stroke", "#000")
      .attr("stroke-width", 2.6)
      .attr("stroke-dasharray", dashDot);
  g.append("path")
      .datum(dipoleAngles.map(function(a, i) { return [a, dip058[i]]; }))
      .attr("d", radial)
      .attr("fill", "none")
      .attr("stroke", "#000")
      .attr("stroke-width", 2.8)
      .attr("stroke-dasharray", dashed);

  // outer frame
  g.append("circle")
      .attr("r", R)
      .attr("fill", "none")
      .attr("stroke", "#000")
      .attr("stroke-width", 1);

  // angle labels
  g.selectAll(".tlab").data(thetaTicks).enter().append("text")
      .attr("class", "tick")
      .attr("x", function(d) { return 245 * Math.sin(toRad(d)); })
      .attr("y", function(d) { return -245 * Math.cos(toRad(d)); })
      .attr("dy", "0.36em")
      .attr("text-anchor", "middle")
      .text(function(d) { return d + "\u00b0"; });

  // radial labels along 45 deg
  g.selectAll(".rlab").data(rTicks).enter().append("text")
      .attr("class", "tick")
      .attr("x", function(d) { return px(45, d); })
      .attr("y", function(d) { return py(45, d) - 1; })
      .attr("text-anchor", "start")
      .text(function(d, i) { return rTickLabels[i]; });

  // air / ground
  g.append("text").attr("class", "tick")
      .attr("x", 67 - cx).attr("y", -7.5)
      .text(sideLabels[0]);
  g.append("text").attr("class", "tick")
      .attr("x", 67 - cx).attr("y", 15)
      .text(sideLabels[1]);

  // legend
  var ly = cy + 260;
  var lx = [9, 125, 240, 426];
  var leg = svg.append("g");
  [0, 1].forEach(function(j) {
    var c = color(j === 0 ? 0 : depths.length - 1);
    leg.append("line")
        .attr("x1", lx[j]).attr("x2", lx[j] + 23)
        .attr("y1", ly).attr("y2", ly)
        .attr("stroke", c).attr("stroke-width", 1.6);
    [lx[j], lx[j] + 23].forEach(function(x) {
      leg.append("circle").attr("cx", x).attr("cy", ly).attr("r", 1.8).attr("fill", c);
    });
  });
  leg.append("line")
      .attr("x1", lx[2]).attr("x2", lx[2] + 20).attr("y1", ly).attr("y2", ly)
      .attr("stroke", "#000").attr("stroke-width", 2.6).attr("stroke-dasharray", dashDot);
  leg.append("line")
      .attr("x1", lx[3]).attr("x2", lx[3] + 21).attr("y1", ly).attr("y2", ly)
      .attr("stroke", "#000").attr("stroke-width", 2.8).attr("stroke-dasharray", dashed);
  legendLabels.forEach(function(t, j) {
    leg.append("text")
        .attr("class", "legendText")
        .attr("x", lx[j] + 38)
        .attr("y", ly)
        .attr("dy", "0.36em")
        .text(t);
  });

  svg.append("text")
      .attr("class", "caption")
      .attr("x", 296)
      .attr("y", cy + 293)
      .attr("text-anchor", "middle")
      .text(captions[idx]);
}

drawPlane(0, ePlane, eDipole01, eDipole058);
drawPlane(1, hPlane, hDipole01, hDipole058);

</script>
</body>
</html>
